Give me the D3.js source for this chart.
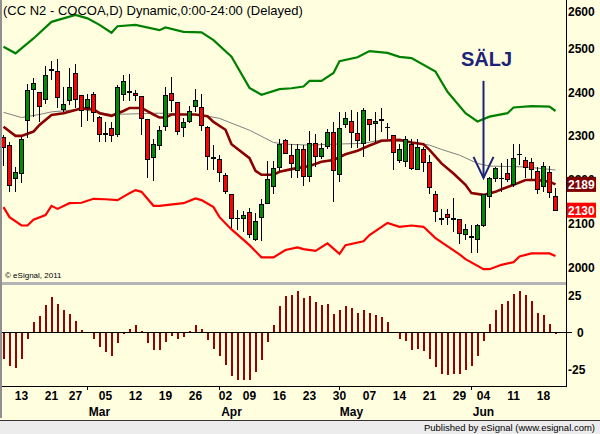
<!DOCTYPE html>
<html>
<head>
<meta charset="utf-8">
<script src="https://cdn.jsdelivr.net/npm/d3@7"></script>
<style>
body { margin:0; background:#ffffe0; }
svg { display:block; font-family:"Liberation Sans", Arial, sans-serif; }
</style>
</head>
<body>
<script>
var w = 600, h = 434;

// trading days, feb 8 -> jun 20 2012
var dates = ["02-08","02-09","02-10","02-13","02-14","02-15","02-16","02-17","02-21","02-22","02-23","02-24","02-27","02-28","02-29",
	"03-01","03-02","03-05","03-06","03-07","03-08","03-09","03-12","03-13","03-14","03-15","03-16","03-19","03-20","03-21","03-22","03-23","03-26","03-27","03-28","03-29","03-30",
	"04-02","04-03","04-04","04-05","04-09","04-10","04-11","04-12","04-13","04-16","04-17","04-18","04-19","04-20","04-23","04-24","04-25","04-26","04-27","04-30",
	"05-01","05-02","05-03","05-04","05-07","05-08","05-09","05-10","05-11","05-14","05-15","05-16","05-17","05-18","05-21","05-22","05-23","05-24","05-25","05-29","05-30","05-31",
	"06-01","06-04","06-05","06-06","06-07","06-08","06-11","06-12","06-13","06-14","06-15","06-18","06-19","06-20"];

var open  = [2296,2277,2203,2214,2336,2407,2400,2384,2451,2448,2361,2380,2442,2392,2365,
	2395,2342,2304,2317,2304,2394,2400,2397,2390,2338,2251,2277,2321,2397,2376,2320,2334,2367,2365,2320,2249,2247,
	2210,2165,2111,2111,2125,2062,2113,2146,2184,2227,2289,2256,2220,2269,2207,2283,2252,2275,2308,2212,
	2326,2334,2306,2283,2338,2329,2336,2319,2300,2243,2241,2281,2224,2269,2239,2166,2110,2121,2110,2108,2075,2069,
	2064,2094,2162,2203,2203,2214,2188,2258,2243,2240,2218,2184,2217,2162];
var high  = [2302,2285,2229,2298,2418,2432,2400,2460,2471,2475,2412,2456,2464,2392,2397,
	2400,2346,2332,2332,2416,2439,2441,2405,2390,2338,2294,2323,2411,2434,2376,2340,2369,2407,2397,2323,2279,2256,
	2216,2165,2130,2128,2134,2124,2156,2243,2243,2293,2293,2281,2281,2279,2311,2304,2283,2316,2332,2355,
	2355,2359,2355,2363,2338,2354,2363,2329,2302,2281,2300,2292,2292,2275,2256,2174,2133,2133,2157,2108,2099,2096,
	2099,2167,2207,2228,2238,2246,2281,2281,2252,2249,2229,2240,2232,2181];
var low   = [2232,2171,2172,2193,2296,2344,2332,2372,2428,2363,2355,2371,2363,2321,2334,
	2332,2285,2285,2285,2298,2380,2380,2380,2302,2203,2197,2268,2311,2355,2302,2298,2329,2355,2311,2222,2222,2194,
	2166,2090,2085,2080,2066,2060,2060,2146,2166,2220,2258,2203,2203,2186,2194,2229,2247,2270,2149,2195,
	2317,2273,2273,2252,2288,2283,2308,2294,2222,2237,2229,2222,2222,2218,2166,2104,2096,2096,2081,2053,2062,2031,
	2031,2092,2136,2194,2172,2194,2184,2233,2203,2201,2166,2172,2159,2130];
var close = [2273,2186,2216,2291,2405,2420,2367,2439,2451,2387,2372,2411,2384,2357,2384,
	2354,2304,2304,2300,2411,2424,2400,2392,2340,2246,2281,2313,2392,2380,2311,2331,2355,2381,2323,2252,2249,2217,
	2172,2112,2111,2118,2074,2105,2143,2201,2226,2281,2260,2237,2269,2207,2283,2254,2272,2308,2220,2317,
	2340,2308,2289,2357,2327,2334,2336,2319,2262,2268,2292,2226,2274,2240,2182,2127,2110,2114,2110,2076,2085,2069,
	2094,2165,2203,2226,2203,2201,2249,2258,2228,2222,2178,2229,2171,2130];

// band lines: [bar index, price]
var upperBand = [[0,2504],[2,2489],[5,2523],[8,2561],[10,2569],[12,2577],[14,2569],[16,2554],[18,2536],[19,2551],[22,2554],
	[26,2542],[27,2548],[30,2538],[33,2537],[35,2519],[38,2481],[41,2410],[43,2394],[46,2407],[48,2409],[50,2413],[51,2426],
	[53,2426],[55,2444],[56,2471],[59,2480],[61,2494],[64,2490],[66,2481],[68,2478],[72,2447],[74,2401],[77,2352],[79,2333],
	[81,2344],[84,2352],[85,2365],[88,2368],[91,2367],[92,2357]];
var lowerBand = [[0,2137],[1,2114],[3,2095],[4,2095],[5,2108],[7,2119],[8,2140],[9,2133],[11,2146],[13,2147],[15,2156],
	[17,2155],[19,2153],[21,2169],[22,2176],[23,2172],[25,2140],[26,2140],[30,2146],[32,2157],[33,2153],[35,2137],[36,2114],
	[38,2086],[41,2050],[43,2022],[45,2022],[47,2039],[49,2045],[50,2041],[52,2037],[54,2054],[56,2030],[57,2050],[60,2059],
	[61,2073],[64,2101],[66,2092],[68,2095],[70,2092],[72,2066],[76,2029],[77,2018],[80,1995],[81,1995],[83,2005],[85,2011],
	[86,2024],[88,2031],[91,2031],[92,2025]];
var midBand = [[0,2321],[2,2300],[3,2300],[5,2310],[6,2325],[8,2348],[10,2352],[12,2359],[13,2363],[15,2361],[16,2352],
	[18,2346],[20,2357],[21,2364],[23,2364],[25,2349],[26,2342],[27,2342],[28,2349],[32,2349],[34,2345],[35,2332],[37,2314],
	[38,2281],[41,2249],[42,2220],[43,2211],[45,2211],[46,2218],[48,2224],[51,2231],[53,2241],[55,2245],[57,2258],[59,2266],
	[61,2278],[63,2289],[66,2291],[68,2285],[70,2281],[71,2268],[73,2237],[75,2214],[77,2188],[78,2169],[80,2165],[82,2172],
	[83,2178],[85,2188],[87,2199],[89,2199],[91,2195],[92,2189]];
var slowMA = [[0,2354],[3,2342],[6,2349],[8,2355],[13,2361],[18,2349],[26,2352],[33,2348],[36,2340],[41,2313],[45,2285],
	[47,2281],[51,2279],[55,2281],[60,2283],[63,2291],[68,2285],[71,2279],[73,2269],[76,2256],[79,2237],[81,2231],[87,2229],[92,2222]];

var osc = [-18,-23,-24,-18,-5,6.5,10.5,18,23.4,19,15,12.4,7.6,1.6,-0.5,-4.5,-10.4,-13.8,-16,-7.4,-1.1,2.2,4.5,0.9,-7.4,
	-12,-12,-6.5,-2.5,-4.5,-3.1,1,4.5,2.2,-5.2,-11.3,-16,-22,-29.5,-32.7,-32.2,-32.2,-27.3,-18.7,-6.5,4.9,17.8,24,25.2,27.9,
	23,24,20.3,18.4,19.1,12.4,15,17.8,16.2,12.8,15,12.8,11.7,10.1,6.8,0.3,-4.5,-5.9,-12,-11.3,-13.1,-18,-23.9,-28.2,-28.9,
	-28.2,-28.2,-25.5,-22.8,-16.5,-5.9,5.6,15,19.1,21.1,25.9,27.4,24.7,20.7,12.8,11.7,5.6,-1.4];

var priceTicks = [2000,2100,2200,2300,2400,2500,2600];
var oscTicks = [-25,0,25];
var dayLabels = [["02-13","13"],["02-21","21"],["02-27","27"],["03-05","05"],["03-12","12"],["03-19","19"],["03-26","26"],
	["04-02","02"],["04-09","09"],["04-16","16"],["04-23","23"],["04-30","30"],["05-07","07"],["05-14","14"],["05-21","21"],
	["05-29","29"],["06-04","04"],["06-11","11"],["06-18","18"]];
var monthLabels = [["03-02","Mar"],["04-03","Apr"],["05-02","May"],["06-04","Jun"]];
var monthEnds = ["02-29","03-30","04-30","05-31"];

var bars = dates.map(function(d,i){
	return {date: d, o: open[i], h: high[i], l: low[i], c: close[i]};
});

var svg = d3.select("body").append("svg")
	.attr("width", w)
	.attr("height", h)

svg.append("rect").attr("width", w).attr("height", h).style("fill", "#ffffe0")

var x = d3.scalePoint().domain(dates).range([3, 555]);
var y = d3.scaleLinear().domain([2000, 2600]).range([267, 4.8]);
var y2 = d3.scaleLinear().domain([-25, 25]).range([369, 295]);

svg.append("clipPath").attr("id", "clipP")
	.append("rect").attr("x", 0).attr("y", 0).attr("width", 566).attr("height", 282)

var price = svg.append("g").attr("clip-path", "url(#clipP)")

var line = d3.line()
	.x(function(d){ return x(dates[d[0]]) + 0.5; })
	.y(function(d){ return y(d[1]); })

price.append("path").attr("d", line(slowMA))
	.style("fill", "none").style("stroke", "#808080").style("stroke-width", 1)
price.append("path").attr("d", line(upperBand))
	.style("fill", "none").style("stroke", "#008000").style("stroke-width", 2.2)
price.append("path").attr("d", line(lowerBand))
	.style("fill", "none").style("stroke", "#ff0000").style("stroke-width", 2.2)
price.append("path").attr("d", line(midBand))
	.style("fill", "none").style("stroke", "#8b0000").style("stroke-width", 2.6)

// candles
var candles = price.append("g").style("shape-rendering", "crispEdges")
	.selectAll("g").data(bars).enter().append("g")

candles.append("line")
	.attr("x1", function(d){ return x(d.date) + 0.5; })
	.attr("x2", function(d){ return x(d.date) + 0.5; })
	.attr("y1", function(d){ return y(d.h); })
	.attr("y2", function(d){ return y(d.l); })
	.style("stroke", "#000")

candles.filter(function(d){ return d.o != d.c; })
	.append("rect")
	.attr("x", function(d){ return x(d.date) - 1.5; })
	.attr("width", 4)
	.attr("y", function(d){ return y(Math.max(d.o, d.c)); })
	.attr("height", function(d){ return Math.abs(y(d.o) - y(d.c)); })
	.style("fill", function(d){ return d.c > d.o ? "#008c00" : "#ff0000"; })
	.style("stroke", "#000")

candles.filter(function(d){ return d.o == d.c; })
	.append("line")
	.attr("x1", function(d){ return x(d.date) - 2; })
	.attr("x2", function(d){ return x(d.date) + 3; })
	.attr("y1", function(d){ return y(d.c); })
	.attr("y2", function(d){ return y(d.c); })
	.style("stroke", "#000").style("stroke-width", 1.5)

// SÄLJ annotation
var xa = x("06-04") + 0.5;
svg.append("text").attr("x", xa + 3).attr("y", 66)
	.attr("text-anchor", "middle")
	.style("font-size", "20px").style("font-weight", "bold").style("fill", "#1c2378")
	.text("SÄLJ")
svg.append("line").attr("x1", xa).attr("x2", xa).attr("y1", y(2426)).attr("y2", y(2204))
	.style("stroke", "#1c2378").style("stroke-width", 2)
svg.append("polyline")
	.attr("points", [[xa - 10, y(2252)], [xa, y(2204)], [xa + 10, y(2252)]].join(" "))
	.style("fill", "none").style("stroke", "#1c2378").style("stroke-width", 2)

svg.append("text").attr("x", 3).attr("y", 15)
	.style("font-size", "13px")
	.text("(CC N2 - COCOA,D) Dynamic,0:00-24:00 (Delayed)")
svg.append("text").attr("x", 5).attr("y", 278)
	.style("font-size", "8px")
	.text("© eSignal, 2011")

// panel separator
svg.append("rect").attr("x", 0).attr("y", 282).attr("width", 566).attr("height", 3).style("fill", "#b4b4b4")

// oscillator histogram
svg.append("g").style("shape-rendering", "crispEdges").selectAll("rect")
	.data(osc).enter().append("rect")
	.attr("x", function(d,i){ return x(dates[i]) - 0.5; })
	.attr("width", 2)
	.attr("y", function(d){ return Math.min(y2(0), y2(d)); })
	.attr("height", function(d){ return Math.abs(y2(d) - y2(0)); })
	.style("fill", "#990000")

svg.append("line").attr("x1", 0).attr("x2", 572).attr("y1", y2(0) + 0.5).attr("y2", y2(0) + 0.5)
	.style("stroke", "#000")

// frame
svg.append("line").attr("x1", 566.5).attr("x2", 566.5).attr("y1", 0).attr("y2", 387).style("stroke", "#000")
svg.append("line").attr("x1", 0).attr("x2", 567).attr("y1", 386.5).attr("y2", 386.5).style("stroke", "#000")
svg.append("line").attr("x1", 1).attr("x2", 1).attr("y1", 0).attr("y2", 418).style("stroke", "#909090").style("stroke-width", 2)

// right axis labels (2200 sits under the value box, as in the original)
svg.append("g").selectAll("text").data(priceTicks).enter().append("text")
	.attr("x", 568)
	.attr("y", function(d){ return Math.max(y(d), 11) + 4.5; })
	.style("font-size", "12px").style("font-weight", "bold")
	.text(function(d){ return d; })

svg.append("g").selectAll("text").data(oscTicks).enter().append("text")
	.attr("x", function(d){ return d == 0 ? 577 : 568; })
	.attr("y", function(d){ return y2(d) + 4.5; })
	.style("font-size", "12px").style("font-weight", "bold")
	.text(function(d){ return d; })

// last value boxes
var lastMid = midBand[midBand.length - 1][1];
var lastClose = close[close.length - 1];
[[lastMid, "#800000"], [lastClose, "#ff0000"]].forEach(function(v){
	svg.append("rect").attr("x", 567).attr("y", y(v[0]) - 7.5).attr("width", 29).attr("height", 15)
		.style("fill", v[1])
	svg.append("text").attr("x", 568).attr("y", y(v[0]) + 4.5)
		.style("font-size", "12px").style("font-weight", "bold").style("fill", "#fff")
		.text(v[0])
})

// date axis
svg.append("g").selectAll("line").data(monthEnds).enter().append("line")
	.attr("x1", function(d){ return x(d) + 0.5; })
	.attr("x2", function(d){ return x(d) + 0.5; })
	.attr("y1", 386).attr("y2", 390)
	.style("stroke", "#000")

svg.append("g").selectAll("text").data(dayLabels).enter().append("text")
	.attr("x", function(d){ return x(d[0]) + 0.5; })
	.attr("y", 400)
	.attr("text-anchor", "middle")
	.style("font-size", "12px").style("font-weight", "bold")
	.text(function(d){ return d[1]; })

svg.append("g").selectAll("text").data(monthLabels).enter().append("text")
	.attr("x", function(d){ return x(d[0]) + 0.5; })
	.attr("y", 416)
	.attr("text-anchor", "middle")
	.style("font-size", "12px").style("font-weight", "bold")
	.text(function(d){ return d[1]; })

// footer
svg.append("rect").attr("x", 0).attr("y", 420).attr("width", w).attr("height", 14).style("fill", "#ececec")
svg.append("line").attr("x1", 0).attr("x2", w).attr("y1", 420.5).attr("y2", 420.5).style("stroke", "#333")
svg.append("text").attr("x", 595).attr("y", 431)
	.attr("text-anchor", "end")
	.style("font-size", "9.5px")
	.text("Published by eSignal (www.esignal.com)")
</script>
</body>
</html>
